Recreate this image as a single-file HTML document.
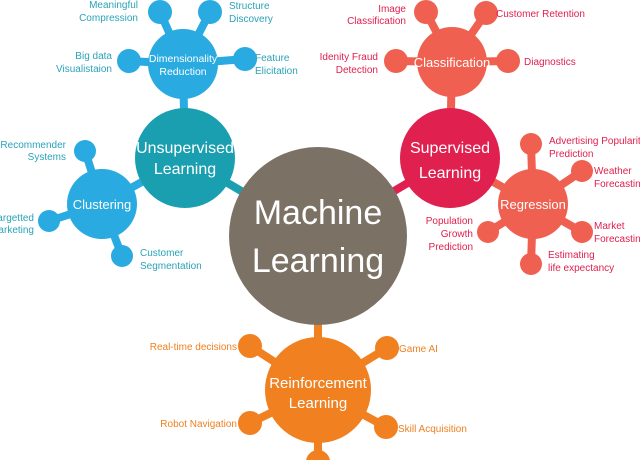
<!DOCTYPE html>
<html><head><style>
body{margin:0;background:#fff}
svg{display:block}
text{font-family:"Liberation Sans",sans-serif}
</style></head><body>
<svg width="640" height="460" viewBox="0 0 640 460">
<g stroke-width="8">
<!-- connectors -->
<line x1="318" y1="236" x2="185" y2="158" stroke="#1a9fb0"/>
<line x1="318" y1="236" x2="450" y2="158" stroke="#e0204f"/>
<line x1="318" y1="236" x2="318" y2="390" stroke="#f08020"/>
<line x1="185" y1="158" x2="183" y2="64" stroke="#29abe2"/>
<line x1="185" y1="158" x2="102" y2="204" stroke="#29abe2"/>
<line x1="450" y1="158" x2="452" y2="62" stroke="#f06050"/>
<line x1="450" y1="158" x2="533" y2="204" stroke="#f06050"/>
<g stroke="#29abe2">
<line x1="183" y1="64" x2="160" y2="12"/><line x1="183" y1="64" x2="210" y2="12"/>
<line x1="183" y1="64" x2="129" y2="61"/><line x1="183" y1="64" x2="245" y2="59"/>
<line x1="102" y1="204" x2="85" y2="151"/><line x1="102" y1="204" x2="49" y2="221"/>
<line x1="102" y1="204" x2="122" y2="256"/>
</g>
<g stroke="#f06050">
<line x1="452" y1="62" x2="426" y2="12"/><line x1="452" y1="62" x2="486" y2="13"/>
<line x1="452" y1="62" x2="396" y2="61"/><line x1="452" y1="62" x2="508" y2="61"/>
<line x1="533" y1="204" x2="531" y2="144"/><line x1="533" y1="204" x2="582" y2="171"/>
<line x1="533" y1="204" x2="582" y2="232"/><line x1="533" y1="204" x2="531" y2="264"/>
<line x1="533" y1="204" x2="488" y2="232"/>
</g>
<g stroke="#f08020">
<line x1="318" y1="390" x2="250" y2="346"/><line x1="318" y1="390" x2="387" y2="348"/>
<line x1="318" y1="390" x2="250" y2="423"/><line x1="318" y1="390" x2="386" y2="427"/>
<line x1="318" y1="390" x2="318" y2="462"/>
</g>
</g>
<!-- satellites -->
<g fill="#29abe2">
<circle cx="160" cy="12" r="12"/><circle cx="210" cy="12" r="12"/><circle cx="129" cy="61" r="12"/><circle cx="245" cy="59" r="12"/>
<circle cx="85" cy="151" r="11"/><circle cx="49" cy="221" r="11"/><circle cx="122" cy="256" r="11"/>
<circle cx="183" cy="64" r="35"/><circle cx="102" cy="204" r="35"/>
</g>
<g fill="#f06050">
<circle cx="426" cy="12" r="12"/><circle cx="486" cy="13" r="12"/><circle cx="396" cy="61" r="12"/><circle cx="508" cy="61" r="12"/>
<circle cx="531" cy="144" r="11"/><circle cx="582" cy="171" r="11"/><circle cx="582" cy="232" r="11"/><circle cx="531" cy="264" r="11"/><circle cx="488" cy="232" r="11"/>
<circle cx="452" cy="62" r="35"/><circle cx="533" cy="204" r="35"/>
</g>
<g fill="#f08020">
<circle cx="250" cy="346" r="12"/><circle cx="387" cy="348" r="12"/><circle cx="250" cy="423" r="12"/><circle cx="386" cy="427" r="12"/><circle cx="318" cy="462" r="12"/>
<circle cx="318" cy="390" r="53"/>
</g>
<circle cx="185" cy="158" r="50" fill="#1a9fb0"/>
<circle cx="450" cy="158" r="50" fill="#e0204f"/>
<circle cx="318" cy="236" r="89" fill="#7b7265"/>
<!-- center labels -->
<g fill="#fff" text-anchor="middle">
<text x="318" y="224" font-size="34">Machine</text>
<text x="318" y="272" font-size="34">Learning</text>
<text x="185" y="153" font-size="16">Unsupervised</text>
<text x="185" y="174" font-size="16">Learning</text>
<text x="450" y="153" font-size="16">Supervised</text>
<text x="450" y="178" font-size="16">Learning</text>
<text x="318" y="388" font-size="15">Reinforcement</text>
<text x="318" y="408" font-size="15">Learning</text>
<text x="183" y="62" font-size="10.5">Dimensionality</text>
<text x="183" y="75" font-size="10.5">Reduction</text>
<text x="102" y="209" font-size="13">Clustering</text>
<text x="452" y="67" font-size="13">Classification</text>
<text x="533" y="209" font-size="13">Regression</text>
</g>
<!-- labels -->
<g fill="#2aa3b8" font-size="10">
<text x="138" y="8" text-anchor="end">Meaningful</text><text x="138" y="21" text-anchor="end">Compression</text>
<text x="229" y="9">Structure</text><text x="229" y="22">Discovery</text>
<text x="112" y="59" text-anchor="end">Big data</text><text x="112" y="72" text-anchor="end">Visualistaion</text>
<text x="255" y="61">Feature</text><text x="255" y="74">Elicitation</text>
<text x="66" y="148" text-anchor="end">Recommender</text><text x="66" y="160" text-anchor="end">Systems</text>
<text x="34" y="221" text-anchor="end">argetted</text><text x="34" y="233" text-anchor="end">arketing</text>
<text x="140" y="256">Customer</text><text x="140" y="269">Segmentation</text>
</g>
<g fill="#e0204f" font-size="10">
<text x="406" y="12" text-anchor="end">Image</text><text x="406" y="24" text-anchor="end">Classification</text>
<text x="496" y="17">Customer Retention</text>
<text x="378" y="60" text-anchor="end">Idenity Fraud</text><text x="378" y="73" text-anchor="end">Detection</text>
<text x="524" y="65">Diagnostics</text>
<text x="549" y="144">Advertising Popularity</text><text x="549" y="157">Prediction</text>
<text x="594" y="174">Weather</text><text x="594" y="187">Forecasting</text>
<text x="594" y="229">Market</text><text x="594" y="242">Forecasting</text>
<text x="548" y="258">Estimating</text><text x="548" y="271">life expectancy</text>
<text x="473" y="224" text-anchor="end">Population</text><text x="473" y="237" text-anchor="end">Growth</text><text x="473" y="250" text-anchor="end">Prediction</text>
</g>
<g fill="#f08020" font-size="10">
<text x="237" y="350" text-anchor="end">Real-time decisions</text>
<text x="399" y="352">Game AI</text>
<text x="237" y="427" text-anchor="end">Robot Navigation</text>
<text x="398" y="432">Skill Acquisition</text>
</g>
</svg>
</body></html>
